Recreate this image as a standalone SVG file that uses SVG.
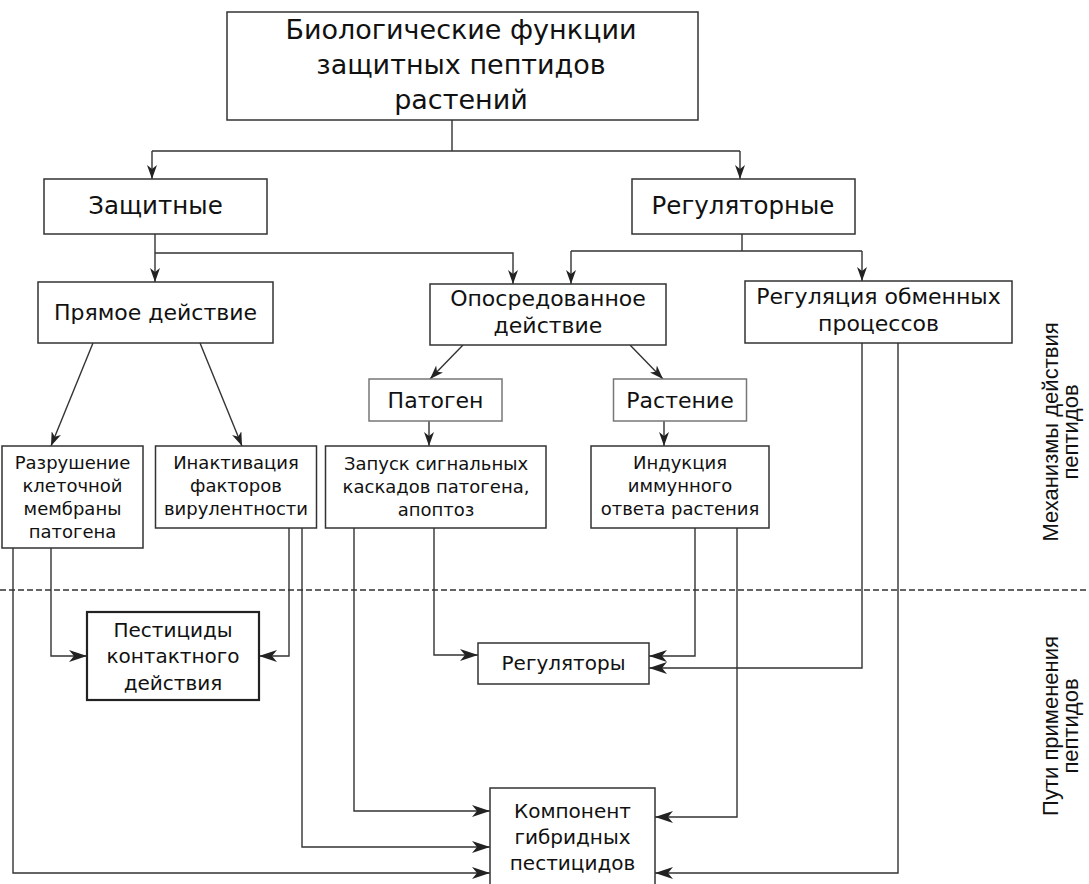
<svg xmlns="http://www.w3.org/2000/svg" width="1089" height="884" viewBox="0 0 1089 884">
<defs>
<style>
.box{fill:#fff;stroke:#333;stroke-width:1.5}
.lbox{fill:#fff;stroke:#777;stroke-width:1.5}
.bbox{fill:#fff;stroke:#222;stroke-width:2.2}
.t{font-family:"DejaVu Sans",Verdana,sans-serif;fill:#111;text-anchor:middle}
.side{font-family:"Liberation Sans",Arial,sans-serif;fill:#111;text-anchor:middle;font-size:22px}
.c{fill:none;stroke:#333;stroke-width:1.4}
.cs{fill:none;stroke:#333;stroke-width:1.4;marker-end:url(#arrS)}
.cl{fill:none;stroke:#333;stroke-width:1.4;marker-end:url(#arrL)}
</style>
<marker id="arrS" viewBox="0 0 14 10" refX="14" refY="5" markerWidth="14" markerHeight="10" markerUnits="userSpaceOnUse" orient="auto">
<path d="M0,0 L14,5 L0,10 L4,5 z" fill="#222"/>
</marker>
<marker id="arrL" viewBox="0 0 18 12" refX="18" refY="6" markerWidth="18" markerHeight="12" markerUnits="userSpaceOnUse" orient="auto">
<path d="M0,0 L18,6 L0,12 L5,6 z" fill="#222"/>
</marker>
</defs>
<rect width="1089" height="884" fill="#fff"/>

<g id="connectors">
<path class="c" d="M452,120 V151 M152,151 H740"/>
<path class="cs" d="M152,151 V179"/>
<path class="cs" d="M740,151 V179"/>
<path class="cs" d="M155,234 V282"/>
<path class="cs" d="M155,253 H513 V284"/>
<path class="c" d="M742,234 V251 M571,251 H862"/>
<path class="cs" d="M571,251 V284"/>
<path class="cs" d="M862,251 V281"/>
<path class="cs" d="M93,343 L51,446"/>
<path class="cs" d="M200,343 L242,446"/>
<path class="cs" d="M463,345 L430,379"/>
<path class="cs" d="M630,345 L663,379"/>
<path class="cs" d="M429,421 V446"/>
<path class="cs" d="M664,421 V446"/>
<path class="cl" d="M51,548 V656 H87"/>
<path class="cl" d="M13,548 V873 H490"/>
<path class="cl" d="M289,528 V656 H259"/>
<path class="cl" d="M302,528 V847 H490"/>
<path class="cl" d="M434,528 V655 H478"/>
<path class="cl" d="M354,528 V811 H490"/>
<path class="cl" d="M695,528 V656 H649"/>
<path class="cl" d="M737,528 V817 H655"/>
<path class="cl" d="M862,343 V668 H649"/>
<path class="cl" d="M898,343 V873 H655"/>
<path d="M0,590 H1089" stroke="#333" stroke-width="1.3" stroke-dasharray="6,3" fill="none"/>
</g>

<g id="n-title">
<rect class="box" x="227" y="12" width="471" height="108"/>
<text class="t" font-size="27" x="461" y="39">Биологические функции</text>
<text class="t" font-size="27" x="461" y="74">защитных пептидов</text>
<text class="t" font-size="27" x="461" y="109">растений</text>
</g>
<g id="n-zasch">
<rect class="box" x="44" y="179" width="223" height="55"/>
<text class="t" font-size="24.5" x="155.5" y="214">Защитные</text>
</g>
<g id="n-regul">
<rect class="box" x="632" y="179" width="223" height="55"/>
<text class="t" font-size="24.5" x="743" y="214">Регуляторные</text>
</g>
<g id="n-pryamoe">
<rect class="box" x="38" y="282" width="235" height="61"/>
<text class="t" font-size="22" x="155.5" y="320">Прямое действие</text>
</g>
<g id="n-oposr">
<rect class="box" x="430" y="284" width="236" height="61"/>
<text class="t" font-size="22" x="548" y="306">Опосредованное</text>
<text class="t" font-size="22" x="548" y="333">действие</text>
</g>
<g id="n-obmen">
<rect class="box" x="745" y="281" width="267" height="62"/>
<text class="t" font-size="22" x="878.5" y="304">Регуляция обменных</text>
<text class="t" font-size="22" x="878.5" y="331">процессов</text>
</g>
<g id="n-patogen">
<rect class="lbox" x="369" y="379" width="133" height="42"/>
<text class="t" font-size="22" x="435.5" y="408">Патоген</text>
</g>
<g id="n-rastenie">
<rect class="lbox" x="613.5" y="379" width="133" height="42"/>
<text class="t" font-size="22" x="680" y="408">Растение</text>
</g>
<g id="n-razrush">
<rect class="box" x="2" y="446" width="141" height="102"/>
<text class="t" font-size="18" x="72.5" y="469">Разрушение</text>
<text class="t" font-size="18" x="72.5" y="492">клеточной</text>
<text class="t" font-size="18" x="72.5" y="515">мембраны</text>
<text class="t" font-size="18" x="72.5" y="538">патогена</text>
</g>
<g id="n-inakt">
<rect class="box" x="155.5" y="446" width="161" height="82"/>
<text class="t" font-size="18" x="236" y="469">Инактивация</text>
<text class="t" font-size="18" x="236" y="492">факторов</text>
<text class="t" font-size="18" x="236" y="515">вирулентности</text>
</g>
<g id="n-zapusk">
<rect class="box" x="325.5" y="446" width="220.5" height="82"/>
<text class="t" font-size="18" x="436" y="470">Запуск сигнальных</text>
<text class="t" font-size="18" x="436" y="493">каскадов патогена,</text>
<text class="t" font-size="18" x="436" y="516">апоптоз</text>
</g>
<g id="n-indukc">
<rect class="box" x="591" y="446" width="178" height="82"/>
<text class="t" font-size="18" x="680" y="469">Индукция</text>
<text class="t" font-size="18" x="680" y="492">иммунного</text>
<text class="t" font-size="18" x="680" y="515">ответа растения</text>
</g>
<g id="n-pest">
<rect class="bbox" x="87" y="612" width="172" height="88"/>
<text class="t" font-size="20" x="173" y="637">Пестициды</text>
<text class="t" font-size="20" x="173" y="663">контактного</text>
<text class="t" font-size="20" x="173" y="690">действия</text>
</g>
<g id="n-regulyatory">
<rect class="box" x="478" y="643" width="171" height="41"/>
<text class="t" font-size="20" x="563.5" y="670">Регуляторы</text>
</g>
<g id="n-komponent">
<rect class="box" x="490" y="788" width="165" height="104"/>
<text class="t" font-size="20" x="572.5" y="818">Компонент</text>
<text class="t" font-size="20" x="572.5" y="844">гибридных</text>
<text class="t" font-size="20" x="572.5" y="870">пестицидов</text>
</g>
<g id="side-labels">
<text class="side" transform="translate(1058,432) rotate(-90)"><tspan x="0" y="0">Механизмы действия</tspan><tspan x="0" y="20">пептидов</tspan></text>
<text class="side" transform="translate(1058,726) rotate(-90)"><tspan x="0" y="0">Пути применения</tspan><tspan x="0" y="20">пептидов</tspan></text>
</g>
</svg>
